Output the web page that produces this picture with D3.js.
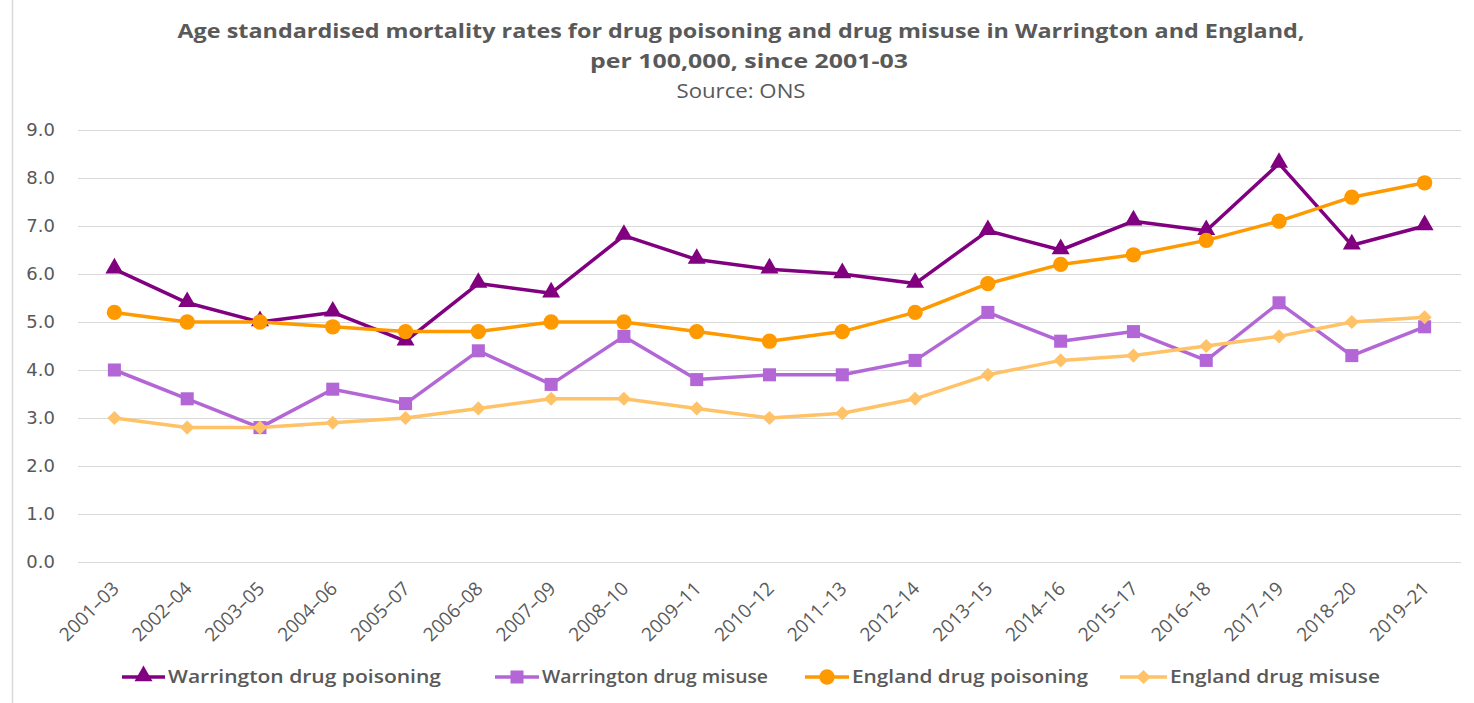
<!DOCTYPE html>
<html><head><meta charset="utf-8">
<script src="https://cdn.jsdelivr.net/npm/d3@7"></script>
<style>body{margin:0;background:#fff;} svg{display:block;}</style>
</head><body>
<svg id="chart" width="1474" height="703"></svg>
<script>
const categories = ["2001–03","2002–04","2003–05","2004–06","2005–07","2006–08","2007–09","2008–10","2009–11","2010–12","2011–13","2012–14","2013–15","2014–16","2015–17","2016–18","2017–19","2018–20","2019–21"];
const warringtonPoisoning = [6.1,5.4,5.0,5.2,4.6,5.8,5.6,6.8,6.3,6.1,6.0,5.8,6.9,6.5,7.1,6.9,8.3,6.6,7.0];
const warringtonMisuse   = [4.0,3.4,2.8,3.6,3.3,4.4,3.7,4.7,3.8,3.9,3.9,4.2,5.2,4.6,4.8,4.2,5.4,4.3,4.9];
const englandPoisoning   = [5.2,5.0,5.0,4.9,4.8,4.8,5.0,5.0,4.8,4.6,4.8,5.2,5.8,6.2,6.4,6.7,7.1,7.6,7.9];
const englandMisuse      = [3.0,2.8,2.8,2.9,3.0,3.2,3.4,3.4,3.2,3.0,3.1,3.4,3.9,4.2,4.3,4.5,4.7,5.0,5.1];
const yTicks = [0,1,2,3,4,5,6,7,8,9];
const seriesNames = ["Warrington drug poisoning","Warrington drug misuse","England drug poisoning","England drug misuse"];

const series = [
  {name: seriesNames[0], values: warringtonPoisoning, color: "#800080", symbol: d3.symbolTriangle, size: 140, rot: 0, dy: -1},
  {name: seriesNames[1], values: warringtonMisuse, color: "#B366D6", symbol: d3.symbolSquare, size: 170, rot: 0, dy: 0},
  {name: seriesNames[2], values: englandPoisoning, color: "#FF9900", symbol: d3.symbolCircle, size: 185, rot: 0, dy: 0},
  {name: seriesNames[3], values: englandMisuse, color: "#FFC266", symbol: d3.symbolSquare, size: 100, rot: 45, dy: 0}
];

const svg = d3.select("#chart");
const textColor = "#595959";
const plotLeft = 78, plotRight = 1461, plotTop = 130, plotBottom = 562;

const x = d3.scaleBand().domain(categories).range([plotLeft, plotRight]);
const y = d3.scaleLinear().domain([0, 9]).range([plotBottom, plotTop]);

// chart border (left)
svg.append("line").attr("x1", 12.5).attr("x2", 12.5).attr("y1", 0).attr("y2", 703)
  .attr("stroke", "#d9d9d9").attr("stroke-width", 1.5);

// Title
const title = svg.append("g").attr("font-family", "'Open Sans', sans-serif").attr("fill", textColor).attr("text-anchor", "middle");
title.append("text").attr("x", 741).attr("y", 38).attr("font-size", 20).attr("font-weight", "bold")
  .attr("textLength", 1127).attr("lengthAdjust", "spacingAndGlyphs")
  .text("Age standardised mortality rates for drug poisoning and drug misuse in Warrington and England,");
title.append("text").attr("x", 749).attr("y", 68).attr("font-size", 20).attr("font-weight", "bold")
  .attr("textLength", 318).attr("lengthAdjust", "spacingAndGlyphs")
  .text("per 100,000, since 2001-03");
title.append("text").attr("x", 741).attr("y", 98).attr("font-size", 20)
  .attr("textLength", 129).attr("lengthAdjust", "spacingAndGlyphs")
  .text("Source: ONS");

// Gridlines + y axis
const yAxis = d3.axisLeft(y).tickValues(yTicks).tickFormat(d3.format(".1f")).tickSize(-(plotRight - plotLeft)).tickPadding(23);
const gy = svg.append("g").attr("transform", `translate(${plotLeft},0)`).call(yAxis);
gy.select(".domain").remove();
gy.selectAll(".tick line").attr("stroke", "#d9d9d9").attr("stroke-width", 1);
gy.selectAll(".tick text").attr("fill", textColor).attr("font-size", 18)
  .attr("font-family", "'DejaVu Sans', Verdana, sans-serif");

// X axis labels
const xAxis = d3.axisBottom(x).tickSize(0).tickPadding(0);
const gx = svg.append("g").attr("transform", `translate(0,${plotBottom})`).call(xAxis);
gx.select(".domain").remove();
gx.selectAll(".tick text")
  .attr("fill", textColor).attr("font-size", 19)
  .attr("font-family", "'Open Sans', sans-serif")
  .attr("text-anchor", "end")
  .attr("y", 0).attr("dy", "0.35em")
  .attr("transform", "translate(1,23) rotate(-45)");

// Series
const cx = d => x(d) + x.bandwidth() / 2;
series.forEach(s => {
  const line = d3.line().x((d, i) => cx(categories[i])).y(d => y(d));
  svg.append("path").datum(s.values).attr("d", line)
    .attr("fill", "none").attr("stroke", s.color).attr("stroke-width", 3.5).attr("stroke-linejoin", "round");
  svg.append("g").selectAll("path").data(s.values).join("path")
    .attr("d", d3.symbol().type(s.symbol).size(s.size))
    .attr("transform", (d, i) => `translate(${cx(categories[i])},${y(d) + s.dy}) rotate(${s.rot})`)
    .attr("fill", s.color);
});

// Legend
const legendItems = [
  {x0: 122, tx: 168, w: 273},
  {x0: 495, tx: 542, w: 226},
  {x0: 805, tx: 852, w: 236},
  {x0: 1120, tx: 1170, w: 210}
];
const lg = svg.append("g");
series.forEach((s, i) => {
  const it = legendItems[i];
  const ly = 677;
  lg.append("line").attr("x1", it.x0).attr("x2", it.tx - 3).attr("y1", ly).attr("y2", ly)
    .attr("stroke", s.color).attr("stroke-width", 3.5);
  lg.append("path").attr("d", d3.symbol().type(s.symbol).size(s.size))
    .attr("transform", `translate(${(it.x0 + it.tx - 3) / 2},${ly + s.dy}) rotate(${s.rot})`)
    .attr("fill", s.color);
  lg.append("text").attr("x", it.tx).attr("y", ly).attr("dy", "0.35em")
    .attr("font-family", "'Open Sans', sans-serif").attr("font-size", 18).attr("font-weight", 600)
    .attr("fill", textColor)
    .attr("textLength", it.w).attr("lengthAdjust", "spacingAndGlyphs")
    .text(s.name);
});
</script>
</body></html>
